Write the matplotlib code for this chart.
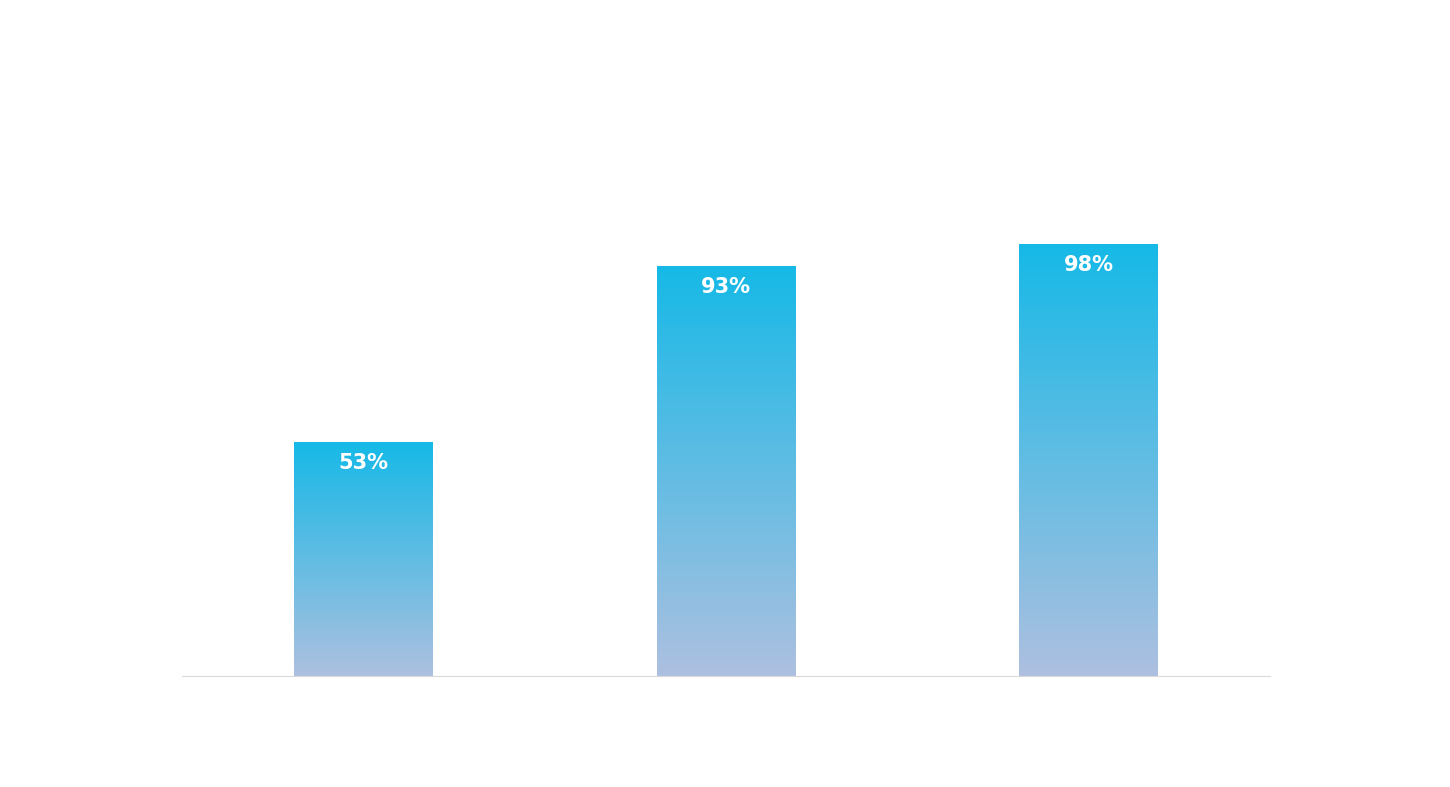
import matplotlib
matplotlib.use("Agg")
import matplotlib.pyplot as plt
import numpy as np
from matplotlib.colors import LinearSegmentedColormap

categories = ["A", "B", "C"]
values = [53, 93, 98]
labels = ["53%", "93%", "98%"]

fig = plt.figure(figsize=(14.5, 7.87), dpi=100)
ax = fig.add_axes([182/1450, 111/787, 1088/1450, 439.8/787])
ax.set_xlim(-0.5, 2.5)
ax.set_ylim(0, 100)
cmap = LinearSegmentedColormap.from_list("g", ["#adc0e0", "#16b9e7"])
w = 0.383
grad = np.linspace(0, 1, 256).reshape(-1, 1)
for i, v in enumerate(values):
    bars = ax.bar(i, v, width=w, color="none", edgecolor="none")
    ax.imshow(grad, cmap=cmap, origin="lower", aspect="auto",
              extent=[i - w/2, i + w/2, 0, v], zorder=2)
    ax.text(i, v - 4.5, labels[i], ha="center", va="center", color="white",
            fontsize=15, fontweight="bold", zorder=3)
ax.set_xlim(-0.5, 2.5)
ax.set_ylim(0, 100)
for s in ["top", "right", "left"]:
    ax.spines[s].set_visible(False)
ax.spines["bottom"].set_color("#d9d9d9")
ax.set_xticks([])
ax.set_yticks([])
fig.savefig("out.png", dpi=100)
